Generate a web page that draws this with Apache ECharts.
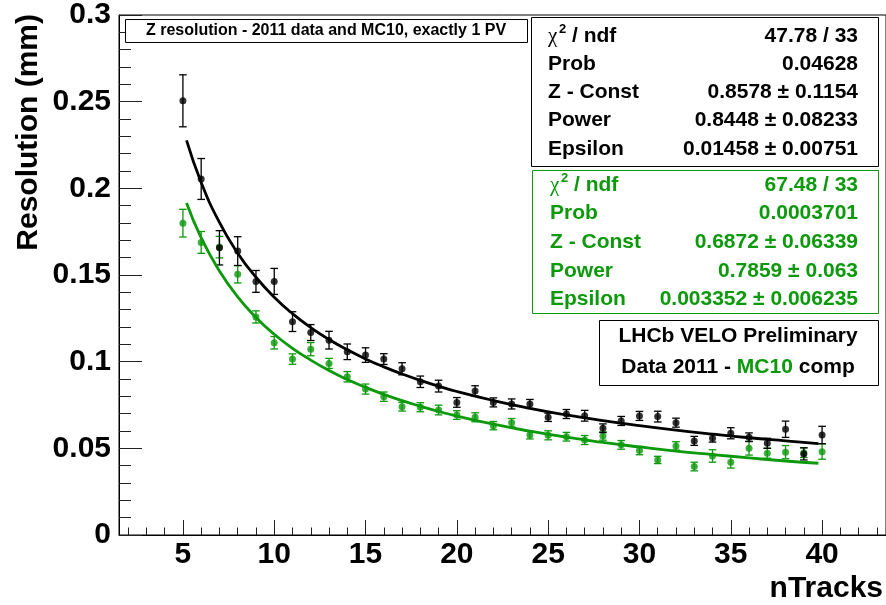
<!DOCTYPE html>
<html>
<head>
<meta charset="utf-8">
<script src="https://cdn.jsdelivr.net/npm/echarts@6.0.0/dist/echarts.min.js"></script>
<style>
  html, body { margin: 0; padding: 0; background: #ffffff; }
  #chart { width: 886px; height: 605px; }
</style>
</head>
<body>
<div id="chart"></div>
<script>
// nTracks bins (exactly 1 PV)
const nTracks = [5, 6, 7, 8, 9, 10, 11, 12, 13, 14, 15, 16, 17, 18, 19, 20, 21, 22,
                 23, 24, 25, 26, 27, 28, 29, 30, 31, 32, 33, 34, 35, 36, 37, 38, 39, 40];

// 2011 data: Z resolution (mm) and its uncertainty
const dataRes = [0.2505, 0.2054, 0.1657, 0.1638, 0.1463, 0.1463, 0.1231, 0.1168, 0.1124,
                 0.1057, 0.1038, 0.1015, 0.0959, 0.0884, 0.0859, 0.0765, 0.0831, 0.0765,
                 0.0756, 0.0756, 0.0679, 0.0698, 0.0688, 0.0616, 0.0658, 0.0687, 0.0683,
                 0.0648, 0.0543, 0.0558, 0.0587, 0.0564, 0.0529, 0.0610, 0.0468, 0.0577];
const dataErr = [0.0150, 0.0118, 0.0099, 0.0083, 0.0063, 0.0075, 0.0057, 0.0046, 0.0051,
                 0.0045, 0.0042, 0.0031, 0.0035, 0.0033, 0.0034, 0.0028, 0.0030, 0.0026,
                 0.0029, 0.0026, 0.0024, 0.0026, 0.0031, 0.0025, 0.0026, 0.0026, 0.0031,
                 0.0026, 0.0026, 0.0022, 0.0032, 0.0025, 0.0029, 0.0047, 0.0035, 0.0050];

// MC10 simulation: Z resolution (mm) and its uncertainty
const mcRes = [0.1799, 0.1688, 0.1661, 0.1504, 0.1258, 0.1109, 0.1015, 0.1072, 0.0990,
               0.0913, 0.0842, 0.0798, 0.0740, 0.0737, 0.0721, 0.0692, 0.0679, 0.0631,
               0.0648, 0.0577, 0.0575, 0.0567, 0.0548, 0.0571, 0.0520, 0.0487, 0.0433,
               0.0514, 0.0395, 0.0456, 0.0420, 0.0501, 0.0472, 0.0478, 0.0475, 0.0481];
const mcErr = [0.0080, 0.0063, 0.0062, 0.0050, 0.0035, 0.0036, 0.0030, 0.0038, 0.0029,
               0.0030, 0.0029, 0.0027, 0.0025, 0.0026, 0.0028, 0.0025, 0.0026, 0.0024,
               0.0024, 0.0023, 0.0026, 0.0025, 0.0026, 0.0024, 0.0025, 0.0024, 0.0021,
               0.0024, 0.0025, 0.0036, 0.0034, 0.0040, 0.0029, 0.0038, 0.0028, 0.0044];

// Fitted resolution curves, sampled along nTracks
const fitN     = [5.2, 6, 7, 8, 9, 10, 11, 12, 13, 14, 15, 16, 17, 18, 19, 20,
                  22, 24, 26, 28, 30, 32, 34, 36, 38, 39.8];
const fitData  = [0.2277, 0.2034, 0.1803, 0.1626, 0.1487, 0.1372, 0.1277, 0.1197, 0.1128,
                  0.1069, 0.1016, 0.0970, 0.0929, 0.0892, 0.0859, 0.0828,
                  0.0776, 0.0731, 0.0693, 0.0660, 0.0631, 0.0605, 0.0582, 0.0561, 0.0543, 0.0527];
const fitMC    = [0.1915, 0.1714, 0.1523, 0.1374, 0.1255, 0.1158, 0.1077, 0.1009, 0.0949,
                  0.0897, 0.0852, 0.0811, 0.0775, 0.0743, 0.0713, 0.0686,
                  0.0639, 0.0599, 0.0564, 0.0534, 0.0508, 0.0484, 0.0464, 0.0445, 0.0427, 0.0414];

// Axis ticks
const xMajorTicks = [5, 10, 15, 20, 25, 30, 35, 40];
const xMinorTicks = [2, 3, 4, 6, 7, 8, 9, 11, 12, 13, 14, 16, 17, 18, 19, 21, 22, 23, 24,
                     26, 27, 28, 29, 31, 32, 33, 34, 36, 37, 38, 39, 41, 42, 43];

// Fit results shown in the statistics boxes
const statLabels = ['Prob', 'Z - Const', 'Power', 'Epsilon'];
const statData   = ['47.78 / 33', '0.04628', '0.8578 \u00b1 0.1154', '0.8448 \u00b1 0.08233', '0.01458 \u00b1 0.00751'];
const statMC     = ['67.48 / 33', '0.0003701', '0.6872 \u00b1 0.06339', '0.7859 \u00b1 0.063', '0.003352 \u00b1 0.006235'];

const GREEN = '#0c990c';
const FONT = "'Liberation Sans', Arial, Helvetica, sans-serif";

const chart = echarts.init(document.getElementById('chart'), null, { renderer: 'canvas' });

function zip3(xs, ys, es) { return xs.map((x, i) => [x, ys[i], es[i]]); }
function zip2(xs, ys) { return xs.map((x, i) => [x, ys[i]]); }

function errorBars(color) {
  return function (params, api) {
    const x = api.value(0), y = api.value(1), e = api.value(2);
    const top = api.coord([x, y + e]);
    const bot = api.coord([x, y - e]);
    const cap = 3.8;
    const st = { stroke: color, lineWidth: 1.3 };
    return {
      type: 'group',
      children: [
        { type: 'line', shape: { x1: top[0], y1: top[1], x2: bot[0], y2: bot[1] }, style: st },
        { type: 'line', shape: { x1: top[0] - cap, y1: top[1], x2: top[0] + cap, y2: top[1] }, style: st },
        { type: 'line', shape: { x1: bot[0] - cap, y1: bot[1], x2: bot[0] + cap, y2: bot[1] }, style: st }
      ]
    };
  };
}

// statistics box text rows
function statBox(top, rowGap, values, color, leftX) {
  const els = [];
  const y0 = top;
  // chi^2 / ndf row
  els.push({ type: 'text', x: leftX, y: y0, style: { text: '\u03c7', font: "21px 'Liberation Serif', serif", fill: color, textVerticalAlign: 'middle' } });
  els.push({ type: 'text', x: leftX + 11, y: y0 - 7, style: { text: '2', font: "bold 13px " + FONT, fill: color, textVerticalAlign: 'middle' } });
  els.push({ type: 'text', x: leftX + 24, y: y0, style: { text: '/ ndf', font: "bold 21px " + FONT, fill: color, textVerticalAlign: 'middle' } });
  els.push({ type: 'text', x: 858, y: y0, style: { text: values[0], font: "bold 21px " + FONT, fill: color, textAlign: 'right', textVerticalAlign: 'middle' } });
  statLabels.forEach((lab, i) => {
    const y = y0 + rowGap * (i + 1);
    els.push({ type: 'text', x: leftX, y: y, style: { text: lab, font: "bold 21px " + FONT, fill: color, textVerticalAlign: 'middle' } });
    els.push({ type: 'text', x: 858, y: y, style: { text: values[i + 1], font: "bold 21px " + FONT, fill: color, textAlign: 'right', textVerticalAlign: 'middle' } });
  });
  return els;
}

const graphics = [
  // title box
  { type: 'rect', shape: { x: 125.5, y: 19.5, width: 402, height: 23 }, style: { fill: '#fff', stroke: '#000', lineWidth: 1 } },
  { type: 'text', x: 326, y: 31, style: { text: 'Z resolution - 2011 data and MC10, exactly 1 PV', font: "bold 16px " + FONT, fill: '#000', textAlign: 'center', textVerticalAlign: 'middle' } },
  // data fit statistics
  { type: 'rect', shape: { x: 531.5, y: 17.5, width: 347, height: 149 }, style: { fill: '#fff', stroke: '#000', lineWidth: 1 } },
  ...statBox(36, 28.2, statData, '#000', 548),
  // MC fit statistics
  { type: 'rect', shape: { x: 532.5, y: 170.5, width: 346, height: 143 }, style: { fill: '#fff', stroke: GREEN, lineWidth: 1 } },
  ...statBox(185, 28.6, statMC, GREEN, 550),
  // LHCb label box
  { type: 'rect', shape: { x: 599.5, y: 320.5, width: 279, height: 65 }, style: { fill: '#fff', stroke: '#000', lineWidth: 1 } },
  { type: 'text', x: 738, y: 336, style: { text: 'LHCb VELO Preliminary', font: "bold 21px " + FONT, fill: '#000', textAlign: 'center', textVerticalAlign: 'middle' } },
  { type: 'text', x: 738, y: 367, style: {
      text: '{k|Data 2011 - }{g|MC10}{k| comp}', textAlign: 'center', textVerticalAlign: 'middle',
      rich: {
        k: { font: "bold 21px " + FONT, fill: '#000' },
        g: { font: "bold 21px " + FONT, fill: GREEN }
      }
  } },
  // axis titles
  { type: 'text', x: 29, y: 14, rotation: Math.PI / 2, style: { text: 'Resolution (mm)', font: "bold 30px " + FONT, fill: '#000', textAlign: 'right', textVerticalAlign: 'middle' } },
  { type: 'text', x: 883, y: 589, style: { text: 'nTracks', font: "bold 30px " + FONT, fill: '#000', textAlign: 'right', textVerticalAlign: 'middle' } }
];

const option = {
  animation: false,
  backgroundColor: '#ffffff',
  grid: { left: 119, top: 14, width: 768, height: 521, show: true, borderColor: '#000', borderWidth: 1, backgroundColor: 'transparent' },
  xAxis: [
    {
      type: 'value', min: 1.5, max: 43.5,
      axisLine: { show: true, lineStyle: { color: '#000', width: 1 } },
      axisTick: { show: true, inside: true, length: 15, customValues: xMajorTicks, lineStyle: { color: '#222', width: 1 } },
      axisLabel: { show: true, customValues: xMajorTicks, margin: 5, color: '#000', fontFamily: FONT, fontWeight: 'bold', fontSize: 30 },
      splitLine: { show: false }
    },
    {
      type: 'value', min: 1.5, max: 43.5, position: 'bottom',
      axisLine: { show: false },
      axisTick: { show: true, inside: true, length: 7.5, customValues: xMinorTicks, lineStyle: { color: '#222', width: 1 } },
      axisLabel: { show: false },
      splitLine: { show: false }
    }
  ],
  yAxis: {
    type: 'value', min: 0, max: 0.3, interval: 0.05,
    axisLine: { show: true, lineStyle: { color: '#000', width: 1 } },
    axisTick: { show: true, inside: true, length: 23, lineStyle: { color: '#222', width: 1 } },
    minorTick: { show: true, splitNumber: 5, length: 12, lineStyle: { color: '#222', width: 1 } },
    axisLabel: { margin: 8, color: '#000', fontFamily: FONT, fontWeight: 'bold', fontSize: 30 },
    splitLine: { show: false },
    minorSplitLine: { show: false }
  },
  series: [
    { type: 'custom', name: 'MC10 errors', xAxisIndex: 0, renderItem: errorBars(GREEN), data: zip3(nTracks, mcRes, mcErr), encode: { x: 0, y: 1 }, z: 2 },
    { type: 'scatter', name: 'MC10', xAxisIndex: 0, data: zip2(nTracks, mcRes), symbol: 'circle', symbolSize: 7, itemStyle: { color: GREEN }, z: 3 },
    { type: 'custom', name: 'Data errors', xAxisIndex: 0, renderItem: errorBars('#000'), data: zip3(nTracks, dataRes, dataErr), encode: { x: 0, y: 1 }, z: 4 },
    { type: 'scatter', name: 'Data 2011', xAxisIndex: 0, data: zip2(nTracks, dataRes), symbol: 'circle', symbolSize: 7, itemStyle: { color: '#000' }, z: 5 },
    { type: 'line', name: 'MC10 fit', xAxisIndex: 0, data: zip2(fitN, fitMC), smooth: true, showSymbol: false, lineStyle: { color: GREEN, width: 2.8 }, z: 6 },
    { type: 'line', name: 'Data fit', xAxisIndex: 0, data: zip2(fitN, fitData), smooth: true, showSymbol: false, lineStyle: { color: '#000', width: 2.8 }, z: 7 }
  ],
  graphic: { elements: graphics.map(g => Object.assign({ z: 100 }, g)) }
};

chart.setOption(option);
</script>
</body>
</html>
